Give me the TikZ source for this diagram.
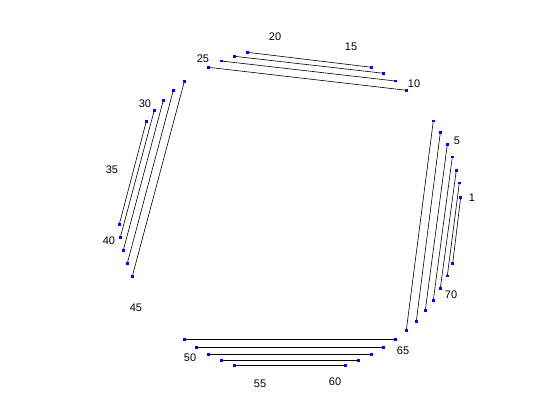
\documentclass[tikz,border=0pt]{standalone}
\usepackage{fontspec}
\setmainfont{Liberation Sans}
\begin{document}
\begin{tikzpicture}[x=1pt,y=-1pt,
  mk/.style={rectangle,fill=blue,inner sep=0pt,minimum size=2.6pt},
  seg/.style={draw=black,line width=0.6pt},
  lbl/.style={font=\fontsize{11}{13}\selectfont,inner sep=0pt}]
\useasboundingbox (0,0) rectangle (560,420);
% pairs: name, x1,y1,x2,y2
\foreach \n/\ax/\ay/\bx/\by in {
  t1/247.3/52.3/371.7/67.3,
  t2/234.3/56.3/383.7/73.3,
  t3/221.3/61/395.3/81,
  t4/208.3/67.3/406.7/90.3,
  r1/433.3/121/406.3/330.3,
  r2/440.3/132.7/416.3/321.3,
  r3/447.3/144.7/425.3/310.3,
  r4/452.3/157/433.3/300.3,
  r5/456.3/170.3/440.3/288.3,
  r6/459.3/183/447.3/276,
  r7/460.7/197.3/452.7/263.3,
  l1/184.3/81.7/132.3/276.3,
  l2/173.3/90.3/127.3/263.3,
  l3/163.3/100.3/123.3/250.3,
  l4/154.3/110.3/120.3/237.3,
  l5/146.3/121.3/119.3/224.3,
  b1/184.3/339.3/395.7/339.3,
  b2/196.3/347.3/383.3/347.3,
  b3/208.7/354.3/371.3/354.3,
  b4/221.3/360.7/358.7/360.7,
  b5/234.3/365.3/345.7/365.3}
{
  \node[mk] (\n a) at (\ax,\ay) {};
  \node[mk] (\n b) at (\bx,\by) {};
  \draw[seg] (\n a.center) -- (\n b.center);
  \node[mk] at (\n a.center) {};
  \node[mk] at (\n b.center) {};
}
\node[lbl] (L1) at (472,198) {1};
\node[lbl] (L5) at (457,141) {5};
\node[lbl] (L10) at (414,84) {10};
\node[lbl] (L15) at (351,47) {15};
\node[lbl] (L20) at (275,37) {20};
\node[lbl] (L25) at (203,59) {25};
\node[lbl] (L30) at (145,104) {30};
\node[lbl] (L35) at (112,170) {35};
\node[lbl] (L40) at (109,241) {40};
\node[lbl] (L45) at (136,308) {45};
\node[lbl] (L50) at (190,358) {50};
\node[lbl] (L55) at (260,384) {55};
\node[lbl] (L60) at (335,382) {60};
\node[lbl] (L65) at (403,351) {65};
\node[lbl] (L70) at (451,295) {70};
\end{tikzpicture}
\end{document}
